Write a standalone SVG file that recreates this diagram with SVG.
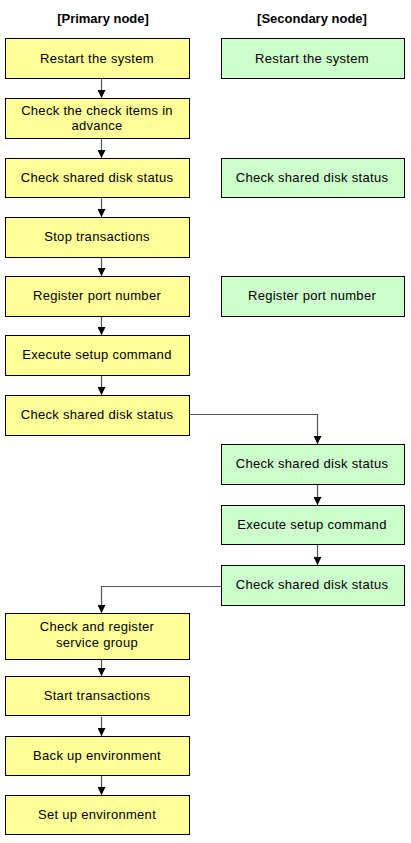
<svg xmlns="http://www.w3.org/2000/svg" width="411" height="843" viewBox="0 0 411 843">
<defs>
<marker id="ah" viewBox="0 0 8 8" refX="8" refY="4" markerWidth="8" markerHeight="8" markerUnits="userSpaceOnUse" orient="auto">
<path d="M0,0 L8,4 L0,8 Z" fill="#000"/>
</marker>
<style>
.p{fill:#FFFF99;stroke:#000;stroke-width:1}
.s{fill:#CCFFCC;stroke:#000;stroke-width:1}
text{font-family:"Liberation Sans",Arial,sans-serif;font-size:13px;letter-spacing:0.3px;fill:#000;text-anchor:middle}
.h{font-weight:bold;letter-spacing:0}
.c{fill:none;stroke:#555;stroke-width:1.2;marker-end:url(#ah)}
</style>
</defs>
<rect width="411" height="843" fill="#fff"/>
<text class="h" x="103" y="23">[Primary node]</text>
<text class="h" x="312" y="23">[Secondary node]</text>
<g id="connectors">
<path class="c" d="M101.5,78.5 V98"/>
<path class="c" d="M101.5,138.5 V158"/>
<path class="c" d="M101.5,198.5 V217"/>
<path class="c" d="M101.5,257.5 V276"/>
<path class="c" d="M101.5,316.5 V335"/>
<path class="c" d="M101.5,375.5 V395"/>
<path class="c" d="M189.5,414.5 H317.5 V444"/>
<path class="c" d="M317.5,484.5 V505"/>
<path class="c" d="M317.5,544.5 V565"/>
<path class="c" d="M221.5,586.5 H101.5 V613"/>
<path class="c" d="M101.5,659.5 V676"/>
<path class="c" d="M101.5,716.5 V736"/>
<path class="c" d="M101.5,775.5 V795"/>
</g>
<g id="p1"><rect class="p" x="5.5" y="38.5" width="184" height="40"/><text x="97" y="63">Restart the system</text></g>
<g id="p2"><rect class="p" x="5.5" y="98.5" width="184" height="40"/><text x="97" y="115">Check the check items in</text><text x="97" y="130">advance</text></g>
<g id="p3"><rect class="p" x="5.5" y="158.5" width="184" height="39"/><text x="97" y="182">Check shared disk status</text></g>
<g id="p4"><rect class="p" x="5.5" y="217.5" width="184" height="40"/><text x="97" y="241">Stop transactions</text></g>
<g id="p5"><rect class="p" x="5.5" y="276.5" width="184" height="40"/><text x="97" y="300">Register port number</text></g>
<g id="p6"><rect class="p" x="5.5" y="335.5" width="184" height="40"/><text x="97" y="359">Execute setup command</text></g>
<g id="p7"><rect class="p" x="5.5" y="395.5" width="184" height="40"/><text x="97" y="419">Check shared disk status</text></g>
<g id="s1"><rect class="s" x="221.5" y="38.5" width="183" height="40"/><text x="312" y="63">Restart the system</text></g>
<g id="s2"><rect class="s" x="221.5" y="158.5" width="183" height="39"/><text x="312" y="182">Check shared disk status</text></g>
<g id="s3"><rect class="s" x="221.5" y="276.5" width="183" height="40"/><text x="312" y="300">Register port number</text></g>
<g id="s4"><rect class="s" x="221.5" y="444.5" width="183" height="40"/><text x="312" y="468">Check shared disk status</text></g>
<g id="s5"><rect class="s" x="221.5" y="505.5" width="183" height="39"/><text x="312" y="529">Execute setup command</text></g>
<g id="s6"><rect class="s" x="221.5" y="565.5" width="183" height="40"/><text x="312" y="589">Check shared disk status</text></g>
<g id="p8"><rect class="p" x="5.5" y="613.5" width="184" height="46"/><text x="97" y="631">Check and register</text><text x="97" y="647">service group</text></g>
<g id="p9"><rect class="p" x="5.5" y="676.5" width="184" height="39"/><text x="97" y="700">Start transactions</text></g>
<g id="p10"><rect class="p" x="5.5" y="736.5" width="184" height="39"/><text x="97" y="760">Back up environment</text></g>
<g id="p11"><rect class="p" x="5.5" y="795.5" width="184" height="39"/><text x="97" y="819">Set up environment</text></g>
</svg>
